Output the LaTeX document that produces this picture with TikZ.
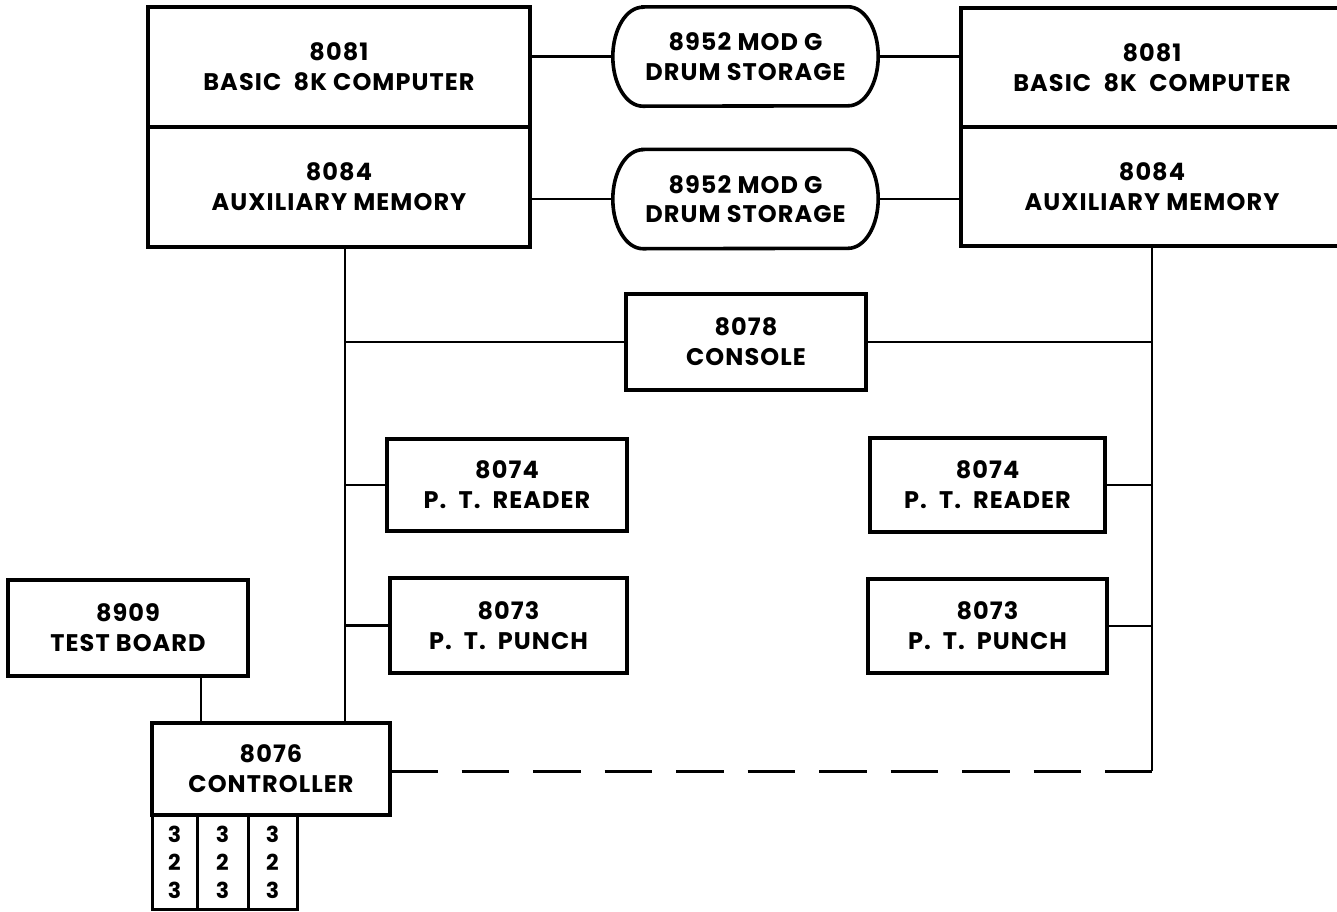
\documentclass[tikz,border=0pt]{standalone}
\usepackage{fontspec}
\newfontfamily\labfont{Poppins}[LetterSpace=4.5]
\begin{document}
\begin{tikzpicture}[x=1pt,y=-1pt,
  box/.style={draw, line width=3.6pt, align=center, inner sep=0pt,
    font=\labfont\bfseries\fontsize{24}{30}\selectfont},
  drumnode/.style={draw=none, align=center, inner sep=0pt,
    font=\labfont\bfseries\fontsize{24}{29.5}\selectfont},
  conn/.style={line width=2.2pt},
  dashconn/.style={line width=3pt, dash pattern=on 47.5pt off 24pt},
  cell/.style={draw, line width=3pt, align=center, inner sep=0pt,
    font=\labfont\bfseries\fontsize{22}{28}\selectfont}]
\useasboundingbox (0,0) rectangle (1337,911);

% computers
\node[box, minimum width=382pt, minimum height=120pt] (c1top) at (339,67) {8081\\BASIC\ \ 8K COMPUTER};
\node[box, minimum width=382pt, minimum height=120pt] (c1bot) at (339,187) {8084\\AUXILIARY MEMORY};
\node[box, minimum width=382pt, minimum height=119pt] (c2top) at (1152,67.5) {8081\\BASIC\ \ 8K\ \ COMPUTER};
\node[box, minimum width=382pt, minimum height=119pt] (c2bot) at (1152,186.5) {8084\\AUXILIARY MEMORY};

% drums
\node[drumnode, minimum width=265pt, minimum height=99pt] (d1) at (745.5,56.5) {8952 MOD G\\DRUM STORAGE};
\node[drumnode, minimum width=265pt, minimum height=99pt] (d2) at (745.5,199) {8952 MOD G\\DRUM STORAGE};
\foreach \d in {d1,d2}{
  \draw[line width=3.6pt] ([xshift=30pt]\d.north west) -- ([xshift=-30pt]\d.north east)
    arc[start angle=90,end angle=-90,x radius=30pt,y radius=49.5pt]
    -- ([xshift=30pt]\d.south west)
    arc[start angle=270,end angle=90,x radius=30pt,y radius=49.5pt] -- cycle;
}

% console and peripherals
\node[box, minimum width=240pt, minimum height=96pt] (console) at (746,342) {8078\\CONSOLE};
\node[box, minimum width=240pt, minimum height=92pt] (readerL) at (507,485) {8074\\P.\hspace{0.5em}T.\hspace{0.5em}READER};
\node[box, minimum width=237pt, minimum height=95pt] (punchL) at (508.5,625.5) {8073\\P.\hspace{0.5em}T.\hspace{0.5em}PUNCH};
\node[box, minimum width=235pt, minimum height=94pt] (readerR) at (987.5,485) {8074\\P.\hspace{0.5em}T.\hspace{0.5em}READER};
\node[box, minimum width=239pt, minimum height=94pt] (punchR) at (987.5,626) {8073\\P.\hspace{0.5em}T.\hspace{0.5em}PUNCH};
\node[box, minimum width=240pt, minimum height=96pt] (test) at (128,628) {8909\\TEST BOARD};
\node[box, minimum width=238pt, minimum height=92pt] (ctrl) at (271,769) {8076\\CONTROLLER};

% cells below controller
\node[cell, minimum width=45pt, minimum height=94pt] (col1) at (174.5,862) {3\\2\\3};
\node[cell, minimum width=51pt, minimum height=94pt] (col2) at (222.5,862) {3\\2\\3};
\node[cell, minimum width=49pt, minimum height=94pt] (col3) at (272.5,862) {3\\2\\3};

% bus coordinates
\coordinate (bLt) at (345,247);
\coordinate (bLb) at (345,723);
\coordinate (bRt) at (1152,246);
\coordinate (bRb) at (1152,771);
\coordinate (tbx) at (201,0);
\coordinate (ctrlR) at (390,771);

% drum connectors
\draw[conn] (d1.west) -- (d1.west -| c1top.east);
\draw[conn] (d1.east) -- (d1.east -| c2top.west);
\draw[conn] (d2.west) -- (d2.west -| c1bot.east);
\draw[conn] (d2.east) -- (d2.east -| c2bot.west);

% buses
\draw[conn] (bLt) -- (bLb);
\draw[conn] (bRt) -- (bRb);
\draw[conn] (console.west) -- (console.west -| bLt);
\draw[conn] (console.east) -- (console.east -| bRt);
\draw[conn] (readerL.west) -- (readerL.west -| bLt);
\draw[conn] (punchL.west) -- (punchL.west -| bLt);
\draw[conn] (readerR.east) -- (readerR.east -| bRt);
\draw[conn] (punchR.east) -- (punchR.east -| bRt);
\draw[conn] (test.south -| tbx) -- (ctrl.north -| tbx);
\draw[dashconn] (ctrlR) -- (bRb);
\end{tikzpicture}
\end{document}
